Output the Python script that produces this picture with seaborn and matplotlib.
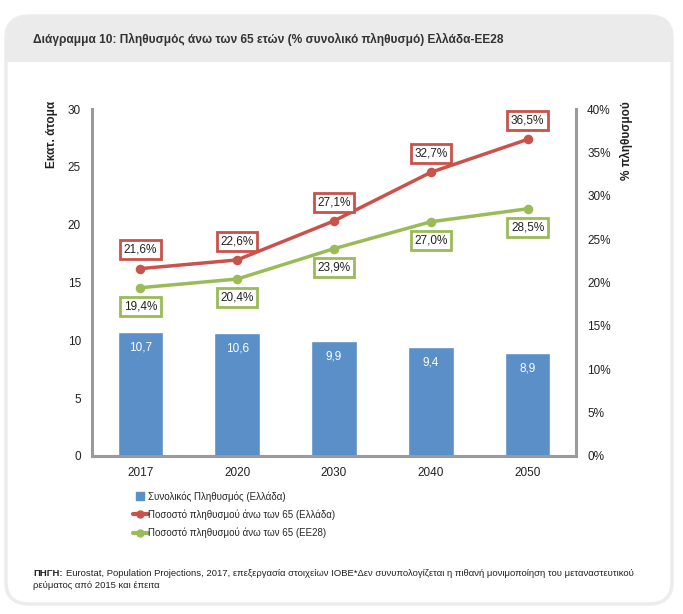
import numpy as np
import pandas as pd
import matplotlib
matplotlib.use('Agg')
import matplotlib.pyplot as plt
from matplotlib.patches import FancyBboxPatch, Rectangle
from matplotlib.lines import Line2D
import seaborn as sns

# data
years = ['2017', '2020', '2030', '2040', '2050']
population = [10.7, 10.6, 9.9, 9.4, 8.9]          # million people, Greece
share_greece = [21.6, 22.6, 27.1, 32.7, 36.5]     # % aged 65+, Greece
share_eu28 = [19.4, 20.4, 23.9, 27.0, 28.5]       # % aged 65+, EU28

legend_labels = ['Συνολικός Πληθυσμός (Ελλάδα)',
                 'Ποσοστό πληθυσμού άνω των 65 (Ελλάδα)',
                 'Ποσοστό πληθυσμού άνω των 65 (ΕΕ28)']

BLUE = '#5b8fc8'
RED = '#c9524b'
GREEN = '#9bbb59'
SPINE = '#9a9a9a'

sns.set_style('white')
plt.rcParams['font.family'] = ['Liberation Sans', 'DejaVu Sans']

W, H = 683, 614
fig = plt.figure(figsize=(W / 100, H / 100), dpi=100)

def fx(px):
    return px / W

def fy(py):
    return 1 - py / H

# card background and grey header band
card = FancyBboxPatch((fx(6), fy(604)), fx(666), fy(16) - fy(604),
                      boxstyle='round,pad=0,rounding_size=0.035',
                      transform=fig.transFigure, facecolor='white',
                      edgecolor='#ececec', linewidth=2.5, zorder=-3)
fig.patches.append(card)
header = FancyBboxPatch((fx(6), fy(62)), fx(666), fy(16) - fy(62),
                        boxstyle='round,pad=0,rounding_size=0.035',
                        transform=fig.transFigure, facecolor='#ebebeb',
                        edgecolor='none', zorder=-2)
fig.patches.append(header)
fig.patches.append(Rectangle((fx(6), fy(62)), fx(666), fy(40) - fy(62),
                             transform=fig.transFigure, facecolor='#ebebeb',
                             edgecolor='none', zorder=-2))

fig.text(fx(33), fy(39), 'Διάγραμμα 10: Πληθυσμός άνω των 65 ετών (% συνολικό πληθυσμό) Ελλάδα-ΕΕ28',
         fontsize=8.6, fontweight='bold', color='#333333', va='center', ha='left')

ax = fig.add_axes([fx(92), fy(456), fx(576) - fx(92), fy(109) - fy(456)])
ax.patch.set_alpha(0)
df = pd.DataFrame({'year': years, 'pop': population,
                   'gr': share_greece, 'eu': share_eu28})

sns.barplot(data=df, x='year', y='pop', color=BLUE, saturation=1,
            width=0.47, ax=ax, zorder=2)
ax.set_ylim(0, 30)
ax.set_yticks(np.arange(0, 31, 5))
ax.set_xlim(-0.5, len(years) - 0.5)
ax.set_xlabel('')
ax.set_ylabel('')
for i, v in enumerate(population):
    ax.annotate(f'{v:.1f}'.replace('.', ','), (i, v), xytext=(0, -11),
                textcoords='offset points', ha='center', va='center',
                color='white', fontsize=8.5)

ax2 = ax.twinx()
ax2.patch.set_alpha(0)
sns.pointplot(data=df, x='year', y='gr', color=RED, ax=ax2,
              markersize=5, linewidth=2.5)
sns.pointplot(data=df, x='year', y='eu', color=GREEN, ax=ax2,
              markersize=5, linewidth=2.5)
ax2.set_ylim(0, 40)
ax2.set_yticks(np.arange(0, 41, 5))
ax2.set_yticklabels([f'{t}%' for t in range(0, 41, 5)])
ax2.set_xlim(-0.5, len(years) - 0.5)
ax2.set_xlabel('')
ax2.set_ylabel('')

def boxed(axis, vals, color, dy):
    for i, v in enumerate(vals):
        axis.annotate(f'{v:.1f}'.replace('.', ',') + '%', (i, v),
                      xytext=(0, dy), textcoords='offset points',
                      ha='center', va='center', fontsize=8.5, color='#222222',
                      bbox=dict(boxstyle='square,pad=0.3', facecolor='white',
                                edgecolor=color, linewidth=2))

boxed(ax2, share_greece, RED, 13.5)
boxed(ax2, share_eu28, GREEN, -13.5)

for a in (ax, ax2):
    for s in a.spines.values():
        s.set_visible(False)
    a.tick_params(length=0, labelsize=8.5, colors='#222222')
ax.spines['left'].set_visible(True)
ax.spines['bottom'].set_visible(True)
ax2.spines['right'].set_visible(True)
for a, side in ((ax, 'left'), (ax, 'bottom'), (ax2, 'right')):
    a.spines[side].set_color(SPINE)
    a.spines[side].set_linewidth(2.2)
ax.tick_params(axis='y', pad=8)
ax2.tick_params(axis='y', pad=8)
ax.tick_params(axis='x', pad=8)

fig.text(fx(52), fy(101), 'Εκατ. άτομα', rotation=90, ha='center', va='top',
         fontsize=8.5, fontweight='bold', color='#222222')
fig.text(fx(626), fy(101), '% πληθυσμού', rotation=90, ha='center', va='top',
         fontsize=8.5, fontweight='bold', color='#222222')

handles = [Line2D([], [], color=BLUE, marker='s', markersize=6, linestyle='none'),
           Line2D([], [], color=RED, lw=3, marker='o', markersize=5),
           Line2D([], [], color=GREEN, lw=3, marker='o', markersize=5)]
fig.legend(handles, legend_labels, loc='upper left',
           bbox_to_anchor=(fx(133), fy(491)), frameon=False, fontsize=7,
           handlelength=1.5, handletextpad=0.0, labelspacing=0.8,
           borderaxespad=0, borderpad=0)

# source note, bold lead word then plain text
lead = fig.text(fx(33), fy(573), 'ΠΗΓΗ:', fontsize=6.8, fontweight='bold',
                color='#222222', va='center', ha='left')
fig.canvas.draw()
bb = lead.get_window_extent()
fig.text(fx(bb.x1 + 3), fy(573),
         'Eurostat, Population Projections, 2017, επεξεργασία στοιχείων ΙΟΒΕ*Δεν συνυπολογίζεται η πιθανή μονιμοποίηση του μεταναστευτικού',
         fontsize=6.8, color='#222222', va='center', ha='left')
fig.text(fx(33), fy(586), 'ρεύματος από 2015 και έπειτα', fontsize=6.8,
         color='#222222', va='center', ha='left')

fig.savefig('out.png', dpi=100)
